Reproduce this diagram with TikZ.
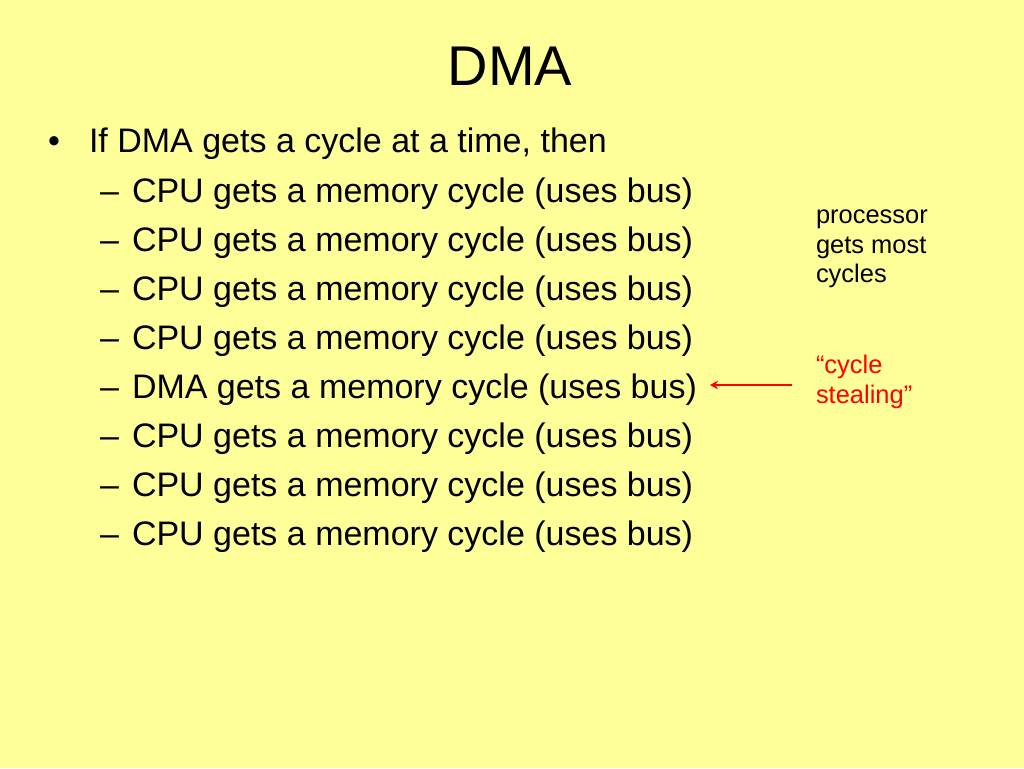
\documentclass[tikz,border=0pt]{standalone}
\usepackage{fontspec}
\setmainfont{Liberation Sans}
\usetikzlibrary{arrows.meta}
\definecolor{slidebg}{HTML}{FFFF99}
\definecolor{stealred}{HTML}{FF0000}
\begin{document}
\begin{tikzpicture}[x=0.75pt,y=-0.75pt,
  txt/.style={anchor=base west,inner sep=0pt,outer sep=0pt},
  bodyfont/.style={font=\fontsize{25.5}{30}\selectfont},
  sidefont/.style={font=\fontsize{19.1}{22.5}\selectfont},
  redarrow/.style={draw=stealred,line width=2pt,-{Stealth[length=6pt,width=6.5pt]}}]
\fill[slidebg] (0,0) rectangle (1024,768);
\useasboundingbox (0,0) rectangle (1024,768);
\node[anchor=base,inner sep=0pt,font=\fontsize{42}{50}\selectfont] (title) at (510,85) {DMA};
\node[txt,bodyfont] (bul) at (48,152) {•};
\node[txt,bodyfont] (l0) at (89,152) {If DMA gets a cycle at a time, then};
\foreach \i/\who in {1/CPU,2/CPU,3/CPU,4/CPU,5/DMA,6/CPU,7/CPU,8/CPU}{
  \node[txt,bodyfont] (d\i) at (100,{202+49*(\i-1)}) {–};
  \node[txt,bodyfont] (l\i) at (132,{202+49*(\i-1)}) {\who{} gets a memory cycle (uses bus)};
}
\node[txt,sidefont] (p1) at (816,223) {processor};
\node[txt,sidefont] (p2) at (816,253) {gets most};
\node[txt,sidefont] (p3) at (816,282) {cycles};
\node[txt,sidefont,text=stealred] (s1) at (816,373) {“cycle};
\node[txt,sidefont,text=stealred] (s2) at (816,403) {stealing”};
\coordinate (arrowstart) at (792,385);
\coordinate (arrowend) at (710,385);
\draw[redarrow] (arrowstart) -- (arrowend);
\end{tikzpicture}
\end{document}
